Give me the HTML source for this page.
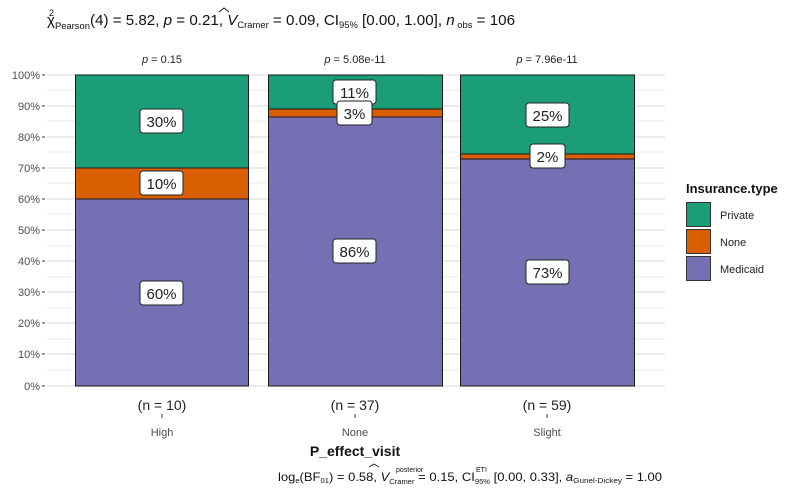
<!DOCTYPE html>
<html><head><meta charset="utf-8"><style>
body{margin:0;background:#fff;}
svg{display:block;font-family:"Liberation Sans",Arial,sans-serif;}
</style></head><body>
<svg width="800" height="498" viewBox="0 0 800 498" xmlns="http://www.w3.org/2000/svg">
<rect width="800" height="498" fill="#fff"/>
<g stroke="#ebebeb" stroke-width="1">
<line x1="47" x2="665" y1="90" y2="90"/><line x1="47" x2="665" y1="121" y2="121"/><line x1="47" x2="665" y1="152" y2="152"/><line x1="47" x2="665" y1="183" y2="183"/><line x1="47" x2="665" y1="214" y2="214"/><line x1="47" x2="665" y1="246" y2="246"/><line x1="47" x2="665" y1="277" y2="277"/><line x1="47" x2="665" y1="308" y2="308"/><line x1="47" x2="665" y1="339" y2="339"/><line x1="47" x2="665" y1="370" y2="370"/>
</g>
<g stroke="#e0e0e0" stroke-width="1.2">
<line x1="47" x2="665" y1="75" y2="75"/><line x1="47" x2="665" y1="106" y2="106"/><line x1="47" x2="665" y1="137" y2="137"/><line x1="47" x2="665" y1="168" y2="168"/><line x1="47" x2="665" y1="199" y2="199"/><line x1="47" x2="665" y1="230" y2="230"/><line x1="47" x2="665" y1="261" y2="261"/><line x1="47" x2="665" y1="292" y2="292"/><line x1="47" x2="665" y1="323" y2="323"/><line x1="47" x2="665" y1="354" y2="354"/><line x1="47" x2="665" y1="386" y2="386"/>
</g>
<g font-size="11" fill="#4d4d4d" text-anchor="end">
<text x="40" y="79">100%</text><text x="40" y="110">90%</text><text x="40" y="141">80%</text><text x="40" y="172">70%</text><text x="40" y="203">60%</text><text x="40" y="234">50%</text><text x="40" y="265">40%</text><text x="40" y="296">30%</text><text x="40" y="327">20%</text><text x="40" y="358">10%</text><text x="40" y="390">0%</text>
</g>
<g stroke="#333" stroke-width="1">
<line x1="42" x2="45" y1="75" y2="75"/><line x1="42" x2="45" y1="106" y2="106"/><line x1="42" x2="45" y1="137" y2="137"/><line x1="42" x2="45" y1="168" y2="168"/><line x1="42" x2="45" y1="199" y2="199"/><line x1="42" x2="45" y1="230" y2="230"/><line x1="42" x2="45" y1="261" y2="261"/><line x1="42" x2="45" y1="292" y2="292"/><line x1="42" x2="45" y1="323" y2="323"/><line x1="42" x2="45" y1="354" y2="354"/><line x1="42" x2="45" y1="386" y2="386"/>
<line x1="162" x2="162" y1="414" y2="418"/><line x1="355" x2="355" y1="414" y2="418"/><line x1="547" x2="547" y1="414" y2="418"/>
</g>
<g stroke="#1a1a1a" stroke-width="1">
<rect x="75.5" y="75" width="173" height="93" fill="#1b9e77"/>
<rect x="75.5" y="168" width="173" height="31" fill="#d95f02"/>
<rect x="75.5" y="199" width="173" height="187" fill="#7570b3"/>
<rect x="268.5" y="75" width="174" height="34" fill="#1b9e77"/>
<rect x="268.5" y="109" width="174" height="8" fill="#d95f02"/>
<rect x="268.5" y="117" width="174" height="269" fill="#7570b3"/>
<rect x="460.5" y="75" width="174" height="79" fill="#1b9e77"/>
<rect x="460.5" y="154" width="174" height="5" fill="#d95f02"/>
<rect x="460.5" y="159" width="174" height="227" fill="#7570b3"/>
</g>
<g font-size="15" fill="#222" text-anchor="middle">
<rect x="140" y="109" width="43" height="24" rx="3" fill="#fff" stroke="#222"/><text x="161.5" y="127">30%</text>
<rect x="140" y="171" width="43" height="24" rx="3" fill="#fff" stroke="#222"/><text x="161.5" y="189">10%</text>
<rect x="140" y="281" width="43" height="24" rx="3" fill="#fff" stroke="#222"/><text x="161.5" y="299">60%</text>
<rect x="333" y="80" width="43" height="24" rx="3" fill="#fff" stroke="#222"/><text x="354.5" y="98">11%</text>
<rect x="337" y="101" width="35" height="24" rx="3" fill="#fff" stroke="#222"/><text x="354.5" y="119">3%</text>
<rect x="333" y="239" width="43" height="24" rx="3" fill="#fff" stroke="#222"/><text x="354.5" y="257">86%</text>
<rect x="526" y="103" width="43" height="24" rx="3" fill="#fff" stroke="#222"/><text x="547.5" y="121">25%</text>
<rect x="530" y="144" width="35" height="24" rx="3" fill="#fff" stroke="#222"/><text x="547.5" y="162">2%</text>
<rect x="526" y="260" width="43" height="24" rx="3" fill="#fff" stroke="#222"/><text x="547.5" y="278">73%</text>
</g>
<g font-size="11" fill="#222" text-anchor="middle">
<text x="162" y="63"><tspan font-style="italic">p</tspan> = 0.15</text>
<text x="355" y="63"><tspan font-style="italic">p</tspan> = 5.08e-11</text>
<text x="547" y="63"><tspan font-style="italic">p</tspan> = 7.96e-11</text>
</g>
<g font-size="14" fill="#222" text-anchor="middle">
<text x="162" y="410">(n = 10)</text><text x="355" y="410">(n = 37)</text><text x="547" y="410">(n = 59)</text>
</g>
<g font-size="11" fill="#4d4d4d" text-anchor="middle">
<text x="162" y="436">High</text><text x="355" y="436">None</text><text x="547" y="436">Slight</text>
</g>
<text x="355" y="456" font-size="14" font-weight="bold" text-anchor="middle" fill="#111">P_effect_visit</text>
<text x="47" y="25" font-size="14.5" fill="#111" textLength="468" lengthAdjust="spacingAndGlyphs">χ<tspan font-size="9" dy="4">Pearson</tspan><tspan dy="-4">(4) = 5.82, </tspan><tspan font-style="italic">p</tspan> = 0.21, <tspan font-style="italic">V</tspan><tspan font-size="9" dy="3">Cramer</tspan><tspan dy="-3"> = 0.09, CI</tspan><tspan font-size="9" dy="3">95%</tspan><tspan dy="-3"> [0.00, 1.00], </tspan><tspan font-style="italic">n</tspan><tspan font-size="9" dy="3"> obs</tspan><tspan dy="-3"> = 106</tspan></text>
<text x="49" y="16" font-size="9" fill="#111">2</text>
<path d="M219 12 L224 8 L229 12" fill="none" stroke="#111" stroke-width="1"/>
<text x="278" y="481" font-size="12" fill="#111" textLength="384" lengthAdjust="spacingAndGlyphs">log<tspan font-size="7" dy="2">e</tspan><tspan dy="-2">(BF</tspan><tspan font-size="7" dy="2">01</tspan><tspan dy="-2">) = 0.58, </tspan><tspan font-style="italic">V</tspan><tspan font-size="7" dy="3">Cramer</tspan><tspan dy="-3"> = 0.15, CI</tspan><tspan font-size="7" dy="3">95%</tspan><tspan dy="-3"> [0.00, 0.33], </tspan><tspan font-style="italic">a</tspan><tspan font-size="7.5" dy="2">Gunel-Dickey</tspan><tspan dy="-2"> = 1.00</tspan></text>
<path d="M369 467 L374 464 L379 467" fill="none" stroke="#111" stroke-width="0.8"/>
<text x="396" y="472" font-size="7" fill="#111">posterior</text>
<text x="476" y="472" font-size="7" fill="#111">ETI</text>
<text x="686" y="193" font-size="13" font-weight="bold" fill="#111">Insurance.type</text>
<g stroke="#333" stroke-width="1">
<rect x="686.5" y="202.5" width="24" height="24" fill="#1b9e77"/>
<rect x="686.5" y="229.5" width="24" height="24" fill="#d95f02"/>
<rect x="686.5" y="256.5" width="24" height="24" fill="#7570b3"/>
</g>
<g font-size="11" fill="#222">
<text x="720" y="219">Private</text><text x="720" y="246">None</text><text x="720" y="273">Medicaid</text>
</g>
</svg>
</body></html>
